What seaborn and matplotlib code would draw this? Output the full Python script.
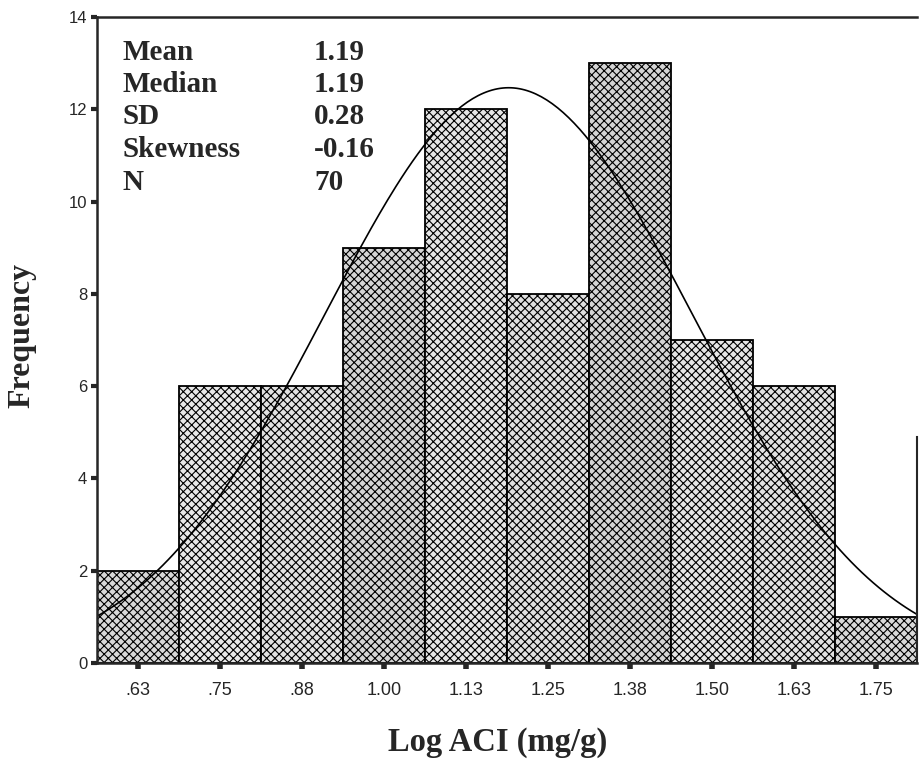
import numpy as np
import pandas as pd
import seaborn as sns
from matplotlib import pyplot as plt

# histogram data (bin centres and counts)
bin_centers = [0.625, 0.75, 0.875, 1.0, 1.125, 1.25, 1.375, 1.5, 1.625, 1.75]
counts = [2, 6, 6, 9, 12, 8, 13, 7, 6, 1]
tick_labels = ['.63', '.75', '.88', '1.00', '1.13', '1.25', '1.38', '1.50', '1.63', '1.75']

# summary statistics printed on the chart
stat_names = ['Mean', 'Median', 'SD', 'Skewness', 'N']
stat_values = ['1.19', '1.19', '0.28', '-0.16', '70']
mean, sd, n = 1.19, 0.28, 70
bin_width = 0.125

sns.set_style('ticks')
plt.rcParams['font.family'] = ['Liberation Sans', 'DejaVu Sans']
plt.rcParams['hatch.linewidth'] = 0.8
plt.rcParams['hatch.color'] = '#6a6a6a'

df = pd.DataFrame({'Log ACI': bin_centers, 'Count': counts})

fig = plt.figure(figsize=(9.2, 7.61), dpi=100)
ax = fig.add_axes([97 / 920, 1 - 663 / 761, 820 / 920, 646 / 761])

sns.histplot(data=df, x='Log ACI', weights='Count', binwidth=bin_width,
             binrange=(bin_centers[0] - bin_width / 2, bin_centers[-1] + bin_width / 2),
             color='#e4e4e4', alpha=1, edgecolor='black', linewidth=1.3, ax=ax)
shades = ['#d8d8d8', '#e8e8e8', '#e2e2e2', '#d6d6d6', '#e6e6e6',
          '#e0e0e0', '#d4d4d4', '#e6e6e6', '#e2e2e2', '#dadada']
for patch, shade in zip(ax.patches, shades):
    patch.set_hatch('xxxx')
    patch.set_facecolor(shade)

# fitted normal curve scaled to the histogram
xs = np.linspace(bin_centers[0] - bin_width / 2, bin_centers[-1] + bin_width / 2, 300)
ys = n * bin_width / (sd * np.sqrt(2 * np.pi)) * np.exp(-0.5 * ((xs - mean) / sd) ** 2)
sns.lineplot(x=xs, y=ys, color='black', linewidth=1.2, ax=ax)

ax.set_xlim(bin_centers[0] - bin_width / 2, bin_centers[-1] + bin_width / 2)
ax.set_ylim(0, 14)
ax.set_xticks(bin_centers)
ax.set_xticklabels(tick_labels, fontsize=13)
ax.set_yticks(range(0, 15, 2))
ax.tick_params(axis='y', labelsize=12, length=4, width=3, pad=3)
ax.tick_params(axis='x', length=4, width=4, pad=10)
ax.set_xlabel('')
ax.set_ylabel('')

for side in ['left', 'bottom', 'top']:
    ax.spines[side].set_linewidth(1.8)
ax.spines['right'].set_linewidth(1.5)
ax.spines['right'].set_bounds(0, 4.9)

for i, (name, val) in enumerate(zip(stat_names, stat_values)):
    y = 52 + i * 32.5
    fig.text(123 / 920, 1 - y / 761, name, family='Liberation Serif', fontweight='bold',
             fontsize=21, va='center', ha='left')
    fig.text(314 / 920, 1 - y / 761, val, family='Liberation Serif', fontweight='bold',
             fontsize=21, va='center', ha='left')

fig.text(22 / 920, 1 - 335 / 761, 'Frequency', family='Liberation Serif', fontweight='bold',
         fontsize=23, rotation=90, va='center', ha='center')
fig.text(498 / 920, 1 - 742 / 761, 'Log ACI (mg/g)', family='Liberation Serif', fontweight='bold',
         fontsize=23.5, va='center', ha='center')

fig.savefig('out.png', dpi=100, facecolor='white')
